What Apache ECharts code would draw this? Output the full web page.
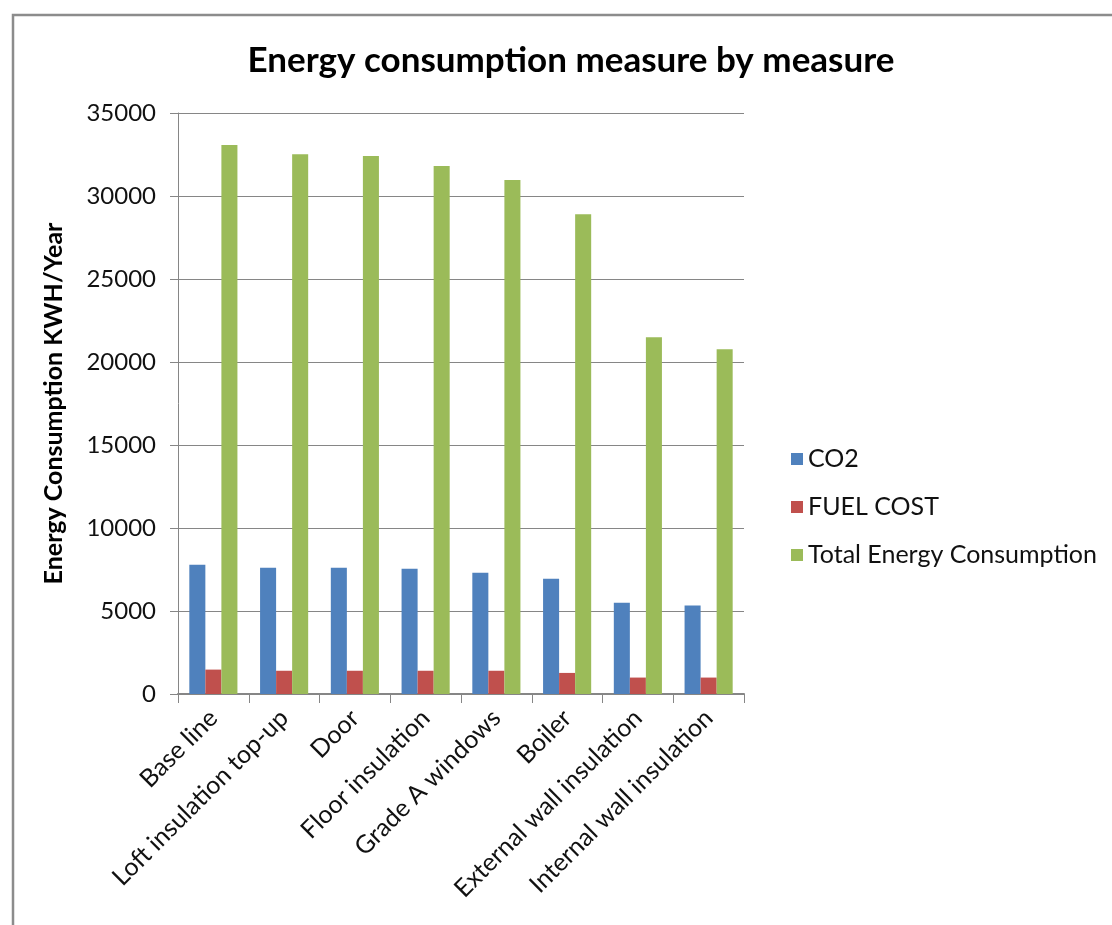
<!DOCTYPE html>
<html>
<head>
<meta charset="utf-8">
<script src="https://cdn.jsdelivr.net/npm/echarts@6/dist/echarts.min.js"></script>
<style>
  html, body { margin: 0; padding: 0; background: #fff; }
  #chart { width: 1112px; height: 925px; }
</style>
</head>
<body>
<div id="chart"></div>
<script>
// values
const measures = ['Base line', 'Loft insulation top-up', 'Door', 'Floor insulation',
  'Grade A windows', 'Boiler', 'External wall insulation', 'Internal wall insulation'];
const co2 = [7790, 7610, 7610, 7540, 7300, 6950, 5500, 5330];
const fuelCost = [1470, 1400, 1400, 1400, 1400, 1270, 990, 990];
const totalEnergy = [33070, 32520, 32410, 31800, 30960, 28900, 21490, 20770];

const font = 'Lato';
const gray = '#868686';

const chart = echarts.init(document.getElementById('chart'));

const barSeries = (name, data, color) => ({
  name: name,
  type: 'bar',
  data: data,
  itemStyle: { color: color },
  barGap: '0%',
  barCategoryGap: '32%'
});

chart.setOption({
  animation: false,
  title: {
    text: 'Energy consumption measure by measure',
    left: 566,
    textAlign: 'center',
    top: 38,
    textStyle: { fontFamily: font, fontWeight: 'bold', fontSize: 35, color: '#000' }
  },
  legend: {
    orient: 'vertical',
    left: 786,
    top: 441,
    itemWidth: 12,
    itemHeight: 12,
    itemGap: 22,
    icon: 'rect',
    textStyle: { fontFamily: font, fontSize: 25, color: '#111', lineHeight: 26 },
    data: ['CO2', 'FUEL COST', 'Total Energy Consumption']
  },
  grid: { left: 178, right: 368, top: 113, bottom: 231 },
  xAxis: {
    type: 'category',
    data: measures,
    axisLine: { lineStyle: { color: gray, width: 2 } },
    axisTick: { show: true, length: 9, lineStyle: { color: gray } },
    axisLabel: {
      rotate: 45,
      interval: 0,
      margin: 20,
      fontFamily: font,
      fontSize: 25,
      color: '#111'
    }
  },
  yAxis: {
    type: 'value',
    min: 0,
    max: 35000,
    interval: 5000,
    name: 'Energy Consumption KWH/Year',
    nameLocation: 'middle',
    nameGap: 112,
    nameTextStyle: { fontFamily: font, fontWeight: 'bold', fontSize: 25, color: '#000' },
    axisLine: { show: true, lineStyle: { color: gray } },
    axisTick: { show: true, length: 8, lineStyle: { color: gray } },
    splitLine: { lineStyle: { color: gray, width: 1 } },
    axisLabel: { fontFamily: font, fontSize: 24, color: '#111', margin: 22, formatter: v => String(v) }
  },
  graphic: [{
    type: 'rect',
    shape: { x: 13, y: 15, width: 1200, height: 1000 },
    style: { fill: 'none', stroke: '#8c8c8c', lineWidth: 2.5 },
    silent: true
  }],
  series: [
    barSeries('CO2', co2, '#4F81BD'),
    barSeries('FUEL COST', fuelCost, '#C0504D'),
    barSeries('Total Energy Consumption', totalEnergy, '#9BBB59')
  ]
});
</script>
</body>
</html>
